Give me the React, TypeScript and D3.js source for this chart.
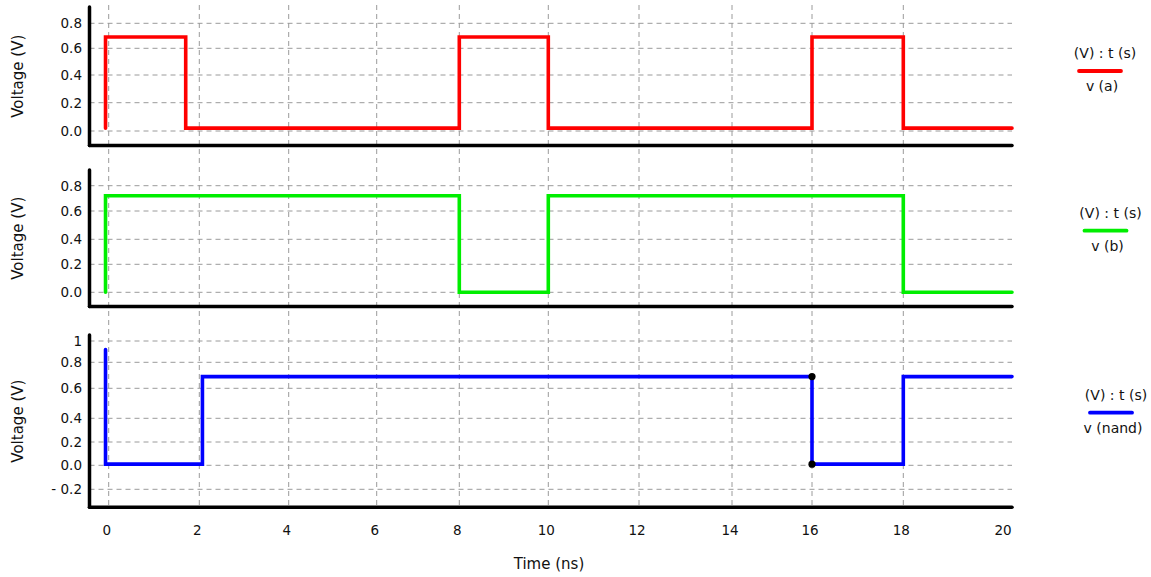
import React from "react";
import * as d3 from "d3";

// ---------- data ----------
const timeTicks = [0, 2, 4, 6, 8, 10, 12, 14, 16, 18, 20];
const timeTickLabels = ["0", "2", "4", "6", "8", "10", "12", "14", "16", "18", "20"];

// v(a)
const tA = [-0.07, -0.07, 1.7, 1.7, 8, 8, 10, 10, 16, 16, 18, 18, 20];
const vA = [0.02, 0.69, 0.69, 0.02, 0.02, 0.69, 0.69, 0.02, 0.02, 0.69, 0.69, 0.02, 0.02];
// v(b)
const tB = [-0.07, -0.07, 8, 8, 10, 10, 18, 18, 20];
const vB = [0.0, 0.72, 0.72, 0.0, 0.0, 0.72, 0.72, 0.0, 0.0];
// v(nand)
const tN = [-0.07, -0.07, 2.07, 2.07, 16, 16, 18, 18, 20];
const vN = [0.92, 0.01, 0.01, 0.69, 0.69, 0.01, 0.01, 0.69, 0.69];
// markers on v(nand)
const markT = [16, 16];
const markV = [0.69, 0.01];

const yTicksA = [0, 0.2, 0.4, 0.6, 0.8];
const yLabelsA = ["0.0", "0.2", "0.4", "0.6", "0.8"];
const yTicksB = [0, 0.2, 0.4, 0.6, 0.8];
const yLabelsB = ["0.0", "0.2", "0.4", "0.6", "0.8"];
const yTicksN = [-0.2, 0, 0.2, 0.4, 0.6, 0.8, 1];
const yLabelsN = ["- 0.2", "0.0", "0.2", "0.4", "0.6", "0.8", "1"];

const legendNames = ["v (a)", "v (b)", "v (nand)"];
const legendHeader = "(V) : t (s)";
const yTitle = "Voltage (V)";
const xTitle = "Time (ns)";

// ---------- layout ----------
const W = 1151;
const H = 577;
const AXIS_X = 89.5;
const X_END = 1012;
const X_GRID_PX = [108.7, 199.3, 288.7, 376.7, 459.3, 548.3, 639, 732, 812, 903.3, 1012];
const FONT = "'DejaVu Sans', Verdana, sans-serif";
const GRID = "#9a9a9a";

const panels = [
  {
    t: tA, v: vA, color: "#ff0000", ticks: yTicksA, labels: yLabelsA,
    tickPx: [131, 102.7, 75, 48.3, 23.3], top: 7, bottom: 145.5,
    legX: 1100, legY: 71, name: legendNames[0],
  },
  {
    t: tB, v: vB, color: "#00ee00", ticks: yTicksB, labels: yLabelsB,
    tickPx: [292.3, 264.3, 239.3, 211, 185.7], top: 170, bottom: 306.5,
    legX: 1105.5, legY: 230.7, name: legendNames[1],
  },
  {
    t: tN, v: vN, color: "#0000ff", ticks: yTicksN, labels: yLabelsN,
    tickPx: [489.3, 465.3, 442, 418.3, 388.3, 362.3, 341], top: 335, bottom: 507.3,
    legX: 1111, legY: 412.7, name: legendNames[2],
  },
];

export default function App() {
  const x = d3.scaleLinear().domain(timeTicks).range(X_GRID_PX);

  return (
    <svg
      width={W}
      height={H}
      style={{ position: "absolute", left: 0, top: 0, background: "#fff" }}
      fontFamily={FONT}
    >
      {/* vertical grid lines spanning all panels */}
      {timeTicks.slice(0, -1).map((t, i) => (
        <line
          key={"vg" + i}
          x1={x(t)}
          x2={x(t)}
          y1={5}
          y2={507}
          stroke={GRID}
          strokeWidth={1}
          strokeDasharray="5,4"
        />
      ))}

      {panels.map((p, pi) => {
        const y = d3.scaleLinear().domain(p.ticks).range(p.tickPx);
        const pts: [number, number][] = p.t.map((t, i) => [t, p.v[i]]);
        const line = d3
          .line<[number, number]>()
          .x((d) => x(d[0]))
          .y((d) => y(d[1]));
        const mid = (p.top + p.bottom) / 2;
        return (
          <g key={"p" + pi}>
            {p.ticks.map((tv, i) => (
              <g key={"yg" + i}>
                <line
                  x1={AXIS_X}
                  x2={X_END}
                  y1={y(tv)}
                  y2={y(tv)}
                  stroke={GRID}
                  strokeWidth={1}
                  strokeDasharray="5,4"
                />
                <text
                  x={82}
                  y={y(tv)}
                  dy="0.36em"
                  textAnchor="end"
                  fontSize={13.5}
                  fill="#111"
                >
                  {p.labels[i]}
                </text>
              </g>
            ))}
            <path
              d={line(pts) || ""}
              fill="none"
              stroke={p.color}
              strokeWidth={3.6}
              strokeLinejoin="miter"
              strokeLinecap="round"
            />
            {/* axes */}
            <line
              x1={AXIS_X}
              x2={AXIS_X}
              y1={p.top}
              y2={p.bottom}
              stroke="#000"
              strokeWidth={3.5}
              strokeLinecap="round"
            />
            <line
              x1={AXIS_X}
              x2={X_END}
              y1={p.bottom}
              y2={p.bottom}
              stroke="#000"
              strokeWidth={3.5}
              strokeLinecap="round"
            />
            <text
              transform={`translate(18,${mid}) rotate(-90)`}
              textAnchor="middle"
              dy="0.35em"
              fontSize={15}
              fill="#111"
            >
              {yTitle}
            </text>
            {/* legend */}
            <text
              x={p.legX + 5}
              y={p.legY - 13}
              textAnchor="middle"
              fontSize={14}
              fill="#111"
            >
              {legendHeader}
            </text>
            <line
              x1={p.legX - 21}
              x2={p.legX + 21}
              y1={p.legY}
              y2={p.legY}
              stroke={p.color}
              strokeWidth={3.8}
              strokeLinecap="round"
            />
            <text
              x={p.legX + 2}
              y={p.legY + 20}
              textAnchor="middle"
              fontSize={14}
              fill="#111"
            >
              {p.name}
            </text>
            {pi === 2 &&
              markT.map((t, i) => (
                <circle key={"m" + i} cx={x(t)} cy={y(markV[i])} r={3.6} fill="#000" />
              ))}
          </g>
        );
      })}

      {/* x tick labels */}
      {timeTicks.map((t, i) => (
        <text
          key={"xl" + i}
          x={x(t) - (i === timeTicks.length - 1 ? 9 : 2)}
          y={535}
          textAnchor="middle"
          fontSize={13.5}
          fill="#111"
        >
          {timeTickLabels[i]}
        </text>
      ))}
      <text x={549} y={569} textAnchor="middle" fontSize={15} fill="#111">
        {xTitle}
      </text>
    </svg>
  );
}
